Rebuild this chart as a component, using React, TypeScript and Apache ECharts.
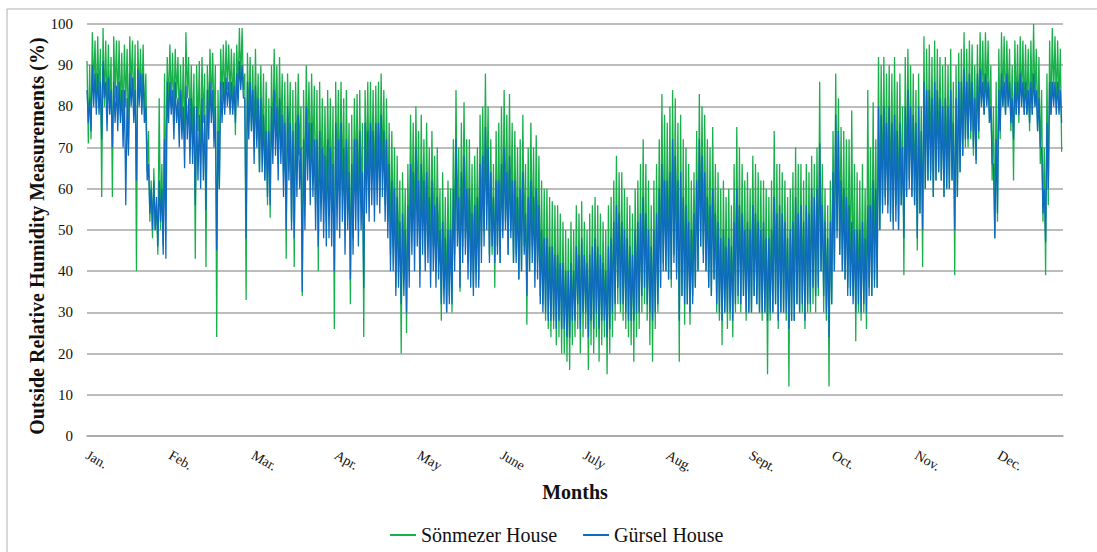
import React, { useEffect, useRef } from "react";
import * as echarts from "echarts";

const MONTHS = ["Jan.", "Feb.", "Mar.", "Apr.", "May", "June", "July", "Aug.", "Sept.", "Oct.", "Nov.", "Dec."];
const Y_TICKS = [0, 10, 20, 30, 40, 50, 60, 70, 80, 90, 100];

// Sönmezer House: daily highest / lowest readings
const SON_HI_JAN = [91,90,98,96,97,94,99,96,95,92,97,96,96,93,95,94,97,96,95,96,94,95,88,74,62,65,56,82,66,88,92];
const SON_LO_JAN = [71,72,84,80,82,58,80,78,80,58,82,80,78,76,80,70,84,78,40,82,80,76,64,52,48,50,44,50,46,58,80];
const SON_HI_FEB = [95,93,94,92,90,92,98,92,90,88,90,91,92,88,90,94,93,90,84,94,95,96,95,94,93,95,99,99];
const SON_LO_FEB = [80,78,82,76,74,70,82,74,72,43,74,66,76,41,76,80,76,24,60,82,80,84,82,80,73,84,86,84];
const SON_HI_MAR = [88,93,92,90,94,88,90,88,86,82,90,94,90,92,88,86,88,86,84,86,88,80,84,90,86,88,85,84,86,82,80];
const SON_LO_MAR = [33,76,74,70,72,64,70,62,56,53,70,74,66,72,64,43,68,52,41,66,68,34,56,70,64,66,56,40,60,56,52];
const SON_HI_APR = [84,82,80,86,84,86,82,84,76,78,82,83,84,76,84,86,86,84,85,86,88,84,82,76,74,70,68,62,64,60];
const SON_LO_APR = [60,56,26,62,58,60,52,58,32,48,60,52,56,24,62,58,62,56,60,58,64,56,52,44,46,36,40,20,38,25];
const SON_HI_MAY = [66,78,76,80,74,78,72,76,70,74,68,70,60,64,58,62,60,72,84,70,76,81,72,72,66,68,70,78,80,88,80];
const SON_LO_MAY = [40,52,46,54,40,50,44,48,40,46,40,42,28,36,30,34,30,44,50,35,46,48,42,40,36,40,38,46,50,56,44];
const SON_HI_JUN = [72,66,74,76,80,84,78,83,76,74,70,72,78,66,70,76,70,73,68,62,60,60,58,57,56,56,54,52,50,48];
const SON_LO_JUN = [44,36,46,42,50,52,44,50,42,44,38,40,46,27,40,46,40,42,34,32,28,26,24,26,22,24,20,20,18,16];
const SON_HI_JUL = [52,50,56,54,57,52,50,54,56,58,56,54,52,50,56,58,62,68,64,64,60,58,56,54,60,62,66,72,66,62,56];
const SON_LO_JUL = [22,24,26,20,24,26,16,22,20,24,18,22,24,15,20,24,28,32,30,28,26,24,22,18,24,26,30,32,28,22,18];
const SON_HI_AUG = [62,66,72,83,78,76,80,84,82,76,78,72,70,66,62,64,74,83,80,78,72,70,75,66,64,60,62,58,60,56,66];
const SON_LO_AUG = [26,30,36,42,40,38,36,44,40,18,34,27,32,27,34,36,40,46,44,40,36,34,38,30,28,22,30,26,28,24,30];
const SON_HI_SEP = [75,70,66,62,64,60,68,66,64,62,62,60,58,62,74,66,66,64,62,58,60,64,70,66,66,62,66,64,68,66];
const SON_LO_SEP = [32,30,34,28,30,30,34,32,30,28,30,15,28,30,32,26,30,30,28,12,28,28,32,30,30,26,30,30,32,30];
const SON_HI_OCT = [70,86,66,60,56,62,74,88,82,75,74,72,72,79,66,64,62,66,60,84,70,81,72,92,90,92,88,90,88,92,86];
const SON_LO_OCT = [34,40,30,28,12,32,40,50,44,40,38,36,36,34,23,30,28,30,26,36,34,38,36,50,56,58,56,54,52,56,50];
const SON_HI_NOV = [88,80,92,94,90,88,84,88,80,97,94,95,92,96,94,92,90,92,90,94,86,90,93,94,98,94,96,95,90,95];
const SON_LO_NOV = [56,39,58,62,58,56,45,54,41,60,62,64,58,62,64,62,58,60,60,62,39,58,64,68,70,70,72,68,67,72];
const SON_HI_DEC = [98,96,98,96,90,80,86,94,98,97,96,94,90,96,95,97,96,95,94,96,100,94,92,84,70,88,96,99,97,96,94];
const SON_LO_DEC = [80,78,82,76,62,48,52,72,80,78,80,74,62,78,76,80,78,78,74,78,80,74,66,52,39,56,78,82,80,80,69];

// Gürsel House: daily highest / lowest readings
const GUR_HI_JAN = [84,82,90,88,88,86,91,86,87,84,86,85,86,84,84,82,88,87,84,89,88,88,80,66,60,62,58,62,60,72,86];
const GUR_LO_JAN = [76,74,80,78,78,72,82,74,78,70,76,74,76,70,56,68,80,76,62,80,78,76,62,54,50,50,46,52,44,43,76];
const GUR_HI_FEB = [86,84,86,82,84,80,85,82,82,80,80,78,82,78,84,86,84,80,74,86,86,87,86,86,85,88,91,90];
const GUR_LO_FEB = [78,72,76,70,72,65,72,66,66,56,62,60,62,55,72,76,70,45,60,76,78,80,78,78,76,80,84,82];
const GUR_HI_MAR = [82,86,86,84,85,82,82,78,74,74,80,84,80,82,78,76,80,76,74,76,78,70,72,80,76,76,72,72,74,70,68];
const GUR_LO_MAR = [48,72,74,66,70,64,64,62,58,56,66,68,62,66,58,50,62,50,48,58,60,35,50,62,56,58,50,46,52,48,46];
const GUR_HI_APR = [72,70,66,76,72,76,70,72,64,66,72,72,74,64,76,74,76,74,76,76,78,74,72,66,62,60,58,52,54,50];
const GUR_LO_APR = [48,46,40,50,48,52,44,50,38,44,50,46,50,36,54,52,56,52,56,54,58,52,48,40,40,34,36,32,34,30];
const GUR_HI_MAY = [56,66,64,70,62,66,62,64,58,62,56,58,50,52,48,50,50,60,72,58,64,68,60,60,54,56,58,66,68,75,70];
const GUR_LO_MAY = [36,44,40,46,36,44,40,42,36,40,36,38,32,32,30,32,32,40,46,36,42,44,38,36,34,36,36,42,46,50,42];
const GUR_HI_JUN = [64,58,62,62,66,70,64,68,62,62,58,60,64,54,58,62,58,60,56,50,48,48,46,46,44,44,42,42,40,40];
const GUR_LO_JUN = [46,42,44,42,48,50,44,48,42,42,38,40,44,34,40,42,36,38,32,30,30,28,28,28,26,28,26,26,24,24];
const GUR_HI_JUL = [42,40,46,44,48,44,42,44,46,48,46,44,42,40,46,48,52,56,54,52,50,48,46,44,50,52,54,58,54,50,46];
const GUR_LO_JUL = [28,28,32,26,30,30,24,28,26,30,26,28,28,24,26,30,32,36,32,32,30,28,28,28,30,30,34,36,32,30,28];
const GUR_HI_AUG = [50,54,60,66,62,62,64,72,68,62,64,58,56,52,50,54,62,72,68,64,58,56,60,54,52,48,50,46,48,46,52];
const GUR_LO_AUG = [30,32,36,40,40,38,38,42,38,28,34,32,32,30,32,36,40,46,42,40,36,34,38,32,30,28,30,30,30,28,32];
const GUR_HI_SEP = [60,56,54,50,52,50,56,54,52,50,52,48,48,50,58,54,56,54,52,48,50,52,58,54,56,52,56,54,60,58];
const GUR_LO_SEP = [34,32,34,30,30,30,34,32,30,30,30,28,30,30,32,28,30,30,30,26,28,28,32,30,32,28,32,32,36,34];
const GUR_HI_OCT = [60,71,56,52,48,52,64,78,74,62,60,58,56,52,50,50,50,52,48,56,56,62,60,80,78,80,76,80,76,78,74];
const GUR_LO_OCT = [36,40,34,30,24,32,40,48,44,40,38,34,34,32,30,32,30,32,30,34,34,36,36,50,54,56,54,52,50,52,50];
const GUR_HI_NOV = [76,70,80,84,80,78,76,80,74,86,84,84,82,86,84,82,80,82,80,84,76,82,86,86,89,86,88,86,82,88];
const GUR_LO_NOV = [56,48,58,60,58,56,48,54,50,60,62,62,58,62,64,62,58,60,60,62,50,58,64,68,72,72,74,70,66,74];
const GUR_HI_DEC = [89,86,88,86,80,66,72,84,88,86,88,86,82,86,86,88,86,86,84,86,88,84,82,70,60,76,86,86,86,86,84];
const GUR_LO_DEC = [80,78,80,76,66,48,54,74,80,78,80,76,72,78,78,80,78,78,76,78,80,74,70,54,47,60,78,80,78,78,76];

const SON_HI = [...SON_HI_JAN, ...SON_HI_FEB, ...SON_HI_MAR, ...SON_HI_APR, ...SON_HI_MAY, ...SON_HI_JUN, ...SON_HI_JUL, ...SON_HI_AUG, ...SON_HI_SEP, ...SON_HI_OCT, ...SON_HI_NOV, ...SON_HI_DEC];
const SON_LO = [...SON_LO_JAN, ...SON_LO_FEB, ...SON_LO_MAR, ...SON_LO_APR, ...SON_LO_MAY, ...SON_LO_JUN, ...SON_LO_JUL, ...SON_LO_AUG, ...SON_LO_SEP, ...SON_LO_OCT, ...SON_LO_NOV, ...SON_LO_DEC];
const GUR_HI = [...GUR_HI_JAN, ...GUR_HI_FEB, ...GUR_HI_MAR, ...GUR_HI_APR, ...GUR_HI_MAY, ...GUR_HI_JUN, ...GUR_HI_JUL, ...GUR_HI_AUG, ...GUR_HI_SEP, ...GUR_HI_OCT, ...GUR_HI_NOV, ...GUR_HI_DEC];
const GUR_LO = [...GUR_LO_JAN, ...GUR_LO_FEB, ...GUR_LO_MAR, ...GUR_LO_APR, ...GUR_LO_MAY, ...GUR_LO_JUN, ...GUR_LO_JUL, ...GUR_LO_AUG, ...GUR_LO_SEP, ...GUR_LO_OCT, ...GUR_LO_NOV, ...GUR_LO_DEC];

const LABEL_STEP = 31;
const FONT = "Liberation Serif";

// each day contributes its high reading, then its low reading half a day later
function toPoints(hi: number[], lo: number[]) {
  const pts: number[][] = [];
  for (let i = 0; i < hi.length; i++) {
    pts.push([i, hi[i]]);
    pts.push([i + 0.5, lo[i]]);
  }
  return pts;
}

export default function App() {
  const ref = useRef<HTMLDivElement>(null);
  useEffect(() => {
    if (!ref.current) return;
    const chart = echarts.init(ref.current, undefined, { renderer: "svg" });
    chart.setOption({
      animation: false,
      backgroundColor: "#ffffff",
      textStyle: { fontFamily: FONT },
      graphic: [
        {
          type: "rect",
          shape: { x: 7, y: 9, width: 1200, height: 700 },
          style: { fill: "none", stroke: "#b0b0b0", lineWidth: 1 },
          silent: true,
          z: -10,
        },
      ],
      legend: {
        bottom: 2,
        left: 385,
        itemWidth: 26,
        itemHeight: 2,
        itemGap: 26,
        icon: "rect",
        textStyle: { fontFamily: FONT, fontSize: 20, color: "#111" },
        data: ["Sönmezer House", "Gürsel House"],
      },
      grid: { left: 87, right: 34, top: 24, bottom: 116 },
      xAxis: {
        type: "value",
        min: 0,
        max: SON_HI.length,
        interval: LABEL_STEP,
        name: "Months",
        nameLocation: "middle",
        nameGap: 46,
        nameTextStyle: { fontFamily: FONT, fontSize: 20, fontWeight: "bold", color: "#111" },
        axisLine: { show: true, lineStyle: { color: "#a6a6a6", width: 1.5 } },
        axisTick: { show: false },
        splitLine: { show: false },
        axisLabel: {
          rotate: -30,
          margin: 18,
          fontFamily: FONT,
          fontSize: 14,
          color: "#111",
          showMaxLabel: false,
          formatter: (v: number) => (v % LABEL_STEP === 0 ? MONTHS[v / LABEL_STEP] ?? "" : ""),
        },
      },
      yAxis: {
        type: "value",
        min: Y_TICKS[0],
        max: Y_TICKS[Y_TICKS.length - 1],
        interval: 10,
        name: "Outside Relative Humidity Measurements (%)",
        nameLocation: "middle",
        nameGap: 40,
        nameMoveOverlap: false,
        nameTextStyle: { fontFamily: FONT, fontSize: 20, fontWeight: "bold", color: "#111", padding: [0, 12, 0, 0] },
        axisLine: { show: false },
        axisTick: { show: false },
        splitLine: { show: true, lineStyle: { color: "#a6a6a6", width: 1.5 } },
        axisLabel: { fontFamily: FONT, fontSize: 15, color: "#111", margin: 14 },
      },
      series: [
        {
          name: "Sönmezer House",
          type: "line",
          data: toPoints(SON_HI, SON_LO),
          showSymbol: false,
          symbol: "none",
          color: "#19AF4B",
          lineStyle: { width: 1.3, color: "#19AF4B" },
          z: 2,
        },
        {
          name: "Gürsel House",
          type: "line",
          data: toPoints(GUR_HI, GUR_LO),
          showSymbol: false,
          symbol: "none",
          color: "#0F6BBD",
          lineStyle: { width: 1.3, color: "#0F6BBD" },
          z: 3,
        },
      ],
    });
    return () => chart.dispose();
  }, []);
  return (
    <div style={{ position: "fixed", left: 0, top: 0, width: 1097, height: 552, background: "#fff" }}>
      <div ref={ref} style={{ width: 1097, height: 552 }} />
    </div>
  );
}
